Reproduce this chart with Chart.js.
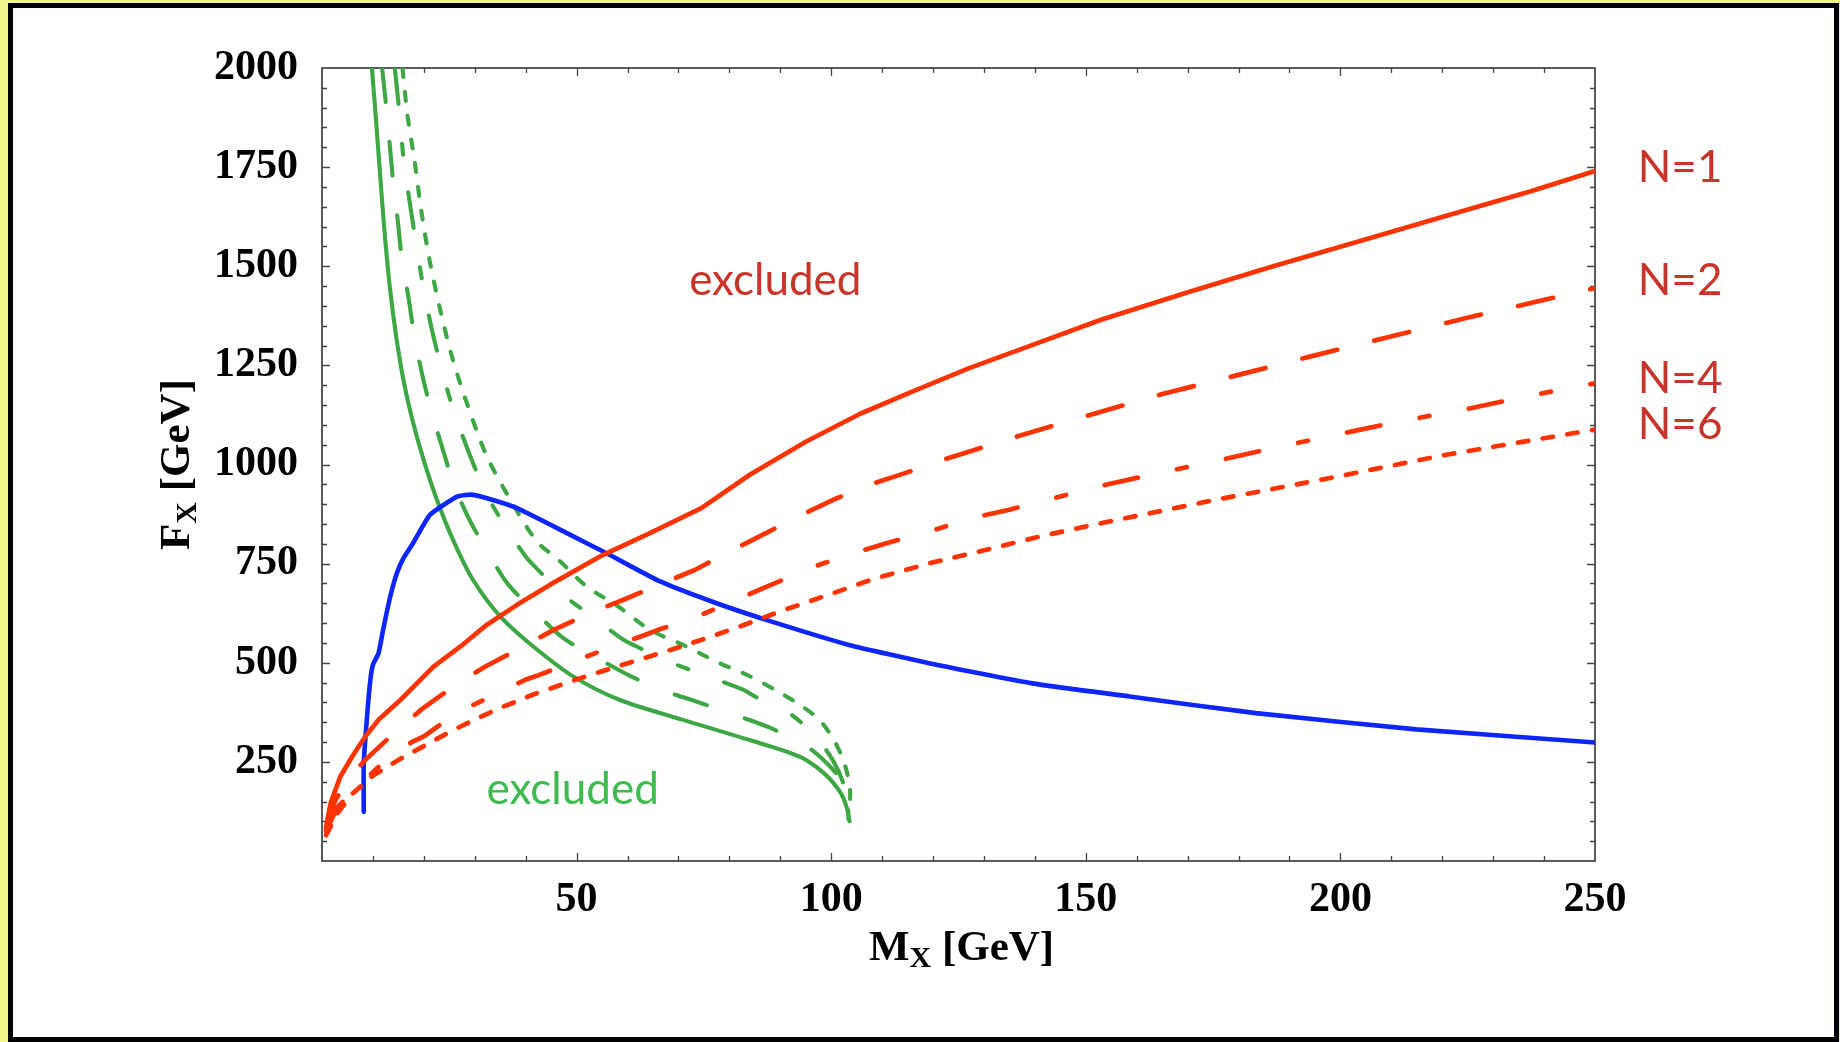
<!DOCTYPE html>
<html><head><meta charset="utf-8">
<script src="https://cdn.jsdelivr.net/npm/chart.js@4.4.1/dist/chart.umd.min.js"></script>
<style>html,body{margin:0;padding:0;background:#f1f58c;overflow:hidden}canvas{display:block}</style>
</head><body><canvas id="c" width="1840" height="1042"></canvas>
<script>
// ---- data ----
const xTickLabels = ['50', '100', '150', '200', '250'];
const yTickLabels = ['250', '500', '750', '1000', '1250', '1500', '1750', '2000'];
const seriesLabels = ['N=1', 'N=2', 'N=4', 'N=6'];
const regionLabels = ['excluded', 'excluded'];
const axisTitleX = ['M', 'X', ' [GeV]'];
const axisTitleY = ['F', 'X', ' [GeV]'];

const redN1 = [[0.8,85],[1.7,146],[3.6,213],[5.9,263],[8.5,314],[11.1,356],[15.4,406],[21.9,490],[27.2,541],[32.4,596],[38.3,646],[44.8,697],[54.6,768],[64.4,827],[74.5,890],[84,974],[95.1,1058],[105.7,1128],[115.9,1184],[127.1,1243],[137.3,1291],[153,1365],[169.9,1434],[186.8,1500],[203.7,1563],[220.5,1626],[237.4,1689],[250,1740]];
const redN2 = [[0.8,80],[2.5,150],[5,205],[8.5,255],[14.1,322],[19.6,383],[25.8,440],[32,490],[39.6,541],[45.5,583],[52.6,625],[59.2,659],[67,701],[73.2,734],[80.1,781],[86.6,823],[93.5,869],[100.4,911],[107.5,949],[114.2,977],[121.5,1010],[136.1,1069],[150.8,1125],[165.4,1179],[180,1226],[194.6,1274],[209.3,1321],[223.9,1367],[238.6,1411],[250,1445]];
const redN4 = [[0.8,75],[3,135],[6.6,183],[11.8,246],[17.5,299],[20.1,315],[26.3,373],[33.4,416],[39.9,457],[42.2,467],[49.4,503],[56.6,539],[63.4,570],[66,583],[72.9,612],[80.1,652],[87,690],[96.1,740],[103.3,772],[110.5,800],[120.2,835],[127.7,865],[135,886],[144.6,918],[151.9,943],[162,972],[176.7,1012],[186.2,1040],[201.4,1081],[211,1107],[225.6,1142],[235.8,1170],[250,1205]];
const redN6 = [[0.8,65],[3,120],[6,170],[10,215],[15,255],[20,290],[25,325],[30,357],[35,386],[41.5,420],[50.7,461],[61.1,503],[71.6,545],[80.7,585],[90.5,632],[100.3,675],[108,710],[119,750],[130.5,785],[141.5,820],[153,852],[175.5,911],[198,966],[220.5,1024],[250,1088]];
const blueCurve = [[8.2,124],[8.2,246],[8.9,373],[9.5,457],[10,495],[11.1,524],[12,583],[13.4,667],[14.7,726],[16,764],[17.9,802],[21.2,873],[26.5,919],[29.1,924],[32.4,915],[38.3,890],[48.1,827],[55.9,776],[66.4,705],[77.5,650],[88,605],[103.5,545],[119.2,499],[139.5,448],[158.6,415],[183.4,373],[214.9,332],[250,299]];
const greenN1 = [[9.8,2000],[10.6,1870],[11.3,1750],[12.2,1600],[13.3,1450],[14.6,1320],[16.2,1200],[18,1100],[20,1010],[22.6,910],[25.8,808],[29.6,710],[35,617],[41.5,541],[49.4,465],[58.5,406],[70.9,356],[84,305],[93.8,263],[98.6,221],[101.7,175],[103,137],[103.6,100]];
const greenN2 = [[11.8,2000],[12.6,1904],[13.3,1807],[14,1710],[14.9,1613],[15.7,1517],[17,1420],[18.1,1327],[19.6,1231],[21.4,1138],[23.6,1043],[25.9,950],[28.9,862],[32.6,778],[36.6,697],[42.1,625],[47.4,562],[54.2,511],[60.5,467],[67.7,427],[74.5,398],[82.1,364],[88.9,331],[95.8,284],[101,221],[103,179],[103.4,105]];
const greenN4 = [[14.3,2000],[15.3,1874],[16,1773],[17,1681],[18.5,1555],[19.8,1454],[21.5,1345],[23.6,1235],[25.8,1138],[28.4,1045],[32.1,930],[36,844],[40,768],[42,740],[47.2,673],[54,608],[59.2,558],[61.8,541],[68.1,503],[74.8,470],[82.7,432],[85,415],[91.5,375],[96.8,316],[100.5,250],[102.5,190],[103.3,110]];
const greenN6 = [[15.8,2000],[16.8,1880],[18.1,1773],[19.5,1640],[21.1,1517],[23.2,1391],[25.7,1264],[28.8,1142],[32.4,1020],[37,911],[42.2,806],[46.4,760],[52,692],[58.2,642],[64.4,583],[70.9,545],[78.1,499],[84,466],[89.6,427],[93.8,394],[97.7,356],[100.7,301],[102.7,242],[103.7,179],[103.5,120]];

// ---- styles ----
const RED = '#ff3300', BLUE = '#0d26ff', GREEN = '#3da843';
const TXT_RED = '#c9342a', TXT_GREEN = '#3dbb4f';
const SERIF = '"Liberation Serif", "Times New Roman", serif';
const SANS = 'Lato, "Open Sans", sans-serif';

function pts(a) { return a.map(p => ({x: p[0], y: p[1]})); }
function ds(data, color, width, dash, tension) {
  return {data: pts(data), borderColor: color, borderWidth: width, borderDash: dash,
    borderCapStyle: 'round', borderJoinStyle: 'round', showLine: true, pointRadius: 0,
    tension: tension || 0, fill: false};
}

const framePlugin = {
  id: 'frame',
  beforeDraw(chart) {
    const ctx = chart.ctx;
    ctx.save();
    ctx.fillStyle = '#f1f58c'; ctx.fillRect(0, 0, 1840, 1042);
    ctx.fillStyle = '#000'; ctx.fillRect(8, 3, 1831, 1039);
    ctx.fillStyle = '#fff'; ctx.fillRect(13, 8, 1821, 1029);
    ctx.restore();
  },
  beforeDatasetsDraw(chart) {
    const ctx = chart.ctx, a = chart.chartArea, xs = chart.scales.x, ys = chart.scales.y;
    ctx.save();
    ctx.strokeStyle = '#333'; ctx.lineWidth = 1.6;
    ctx.strokeRect(a.left, a.top, a.right - a.left, a.bottom - a.top);
    ctx.lineWidth = 1.3; ctx.strokeStyle = '#444';
    ctx.beginPath();
    for (let v = 10; v < 250; v += 10) {
      const px = Math.round(xs.getPixelForValue(v)) + 0.5, L = (v % 50 === 0) ? 8 : 5;
      ctx.moveTo(px, a.bottom); ctx.lineTo(px, a.bottom - L);
      ctx.moveTo(px, a.top); ctx.lineTo(px, a.top + L);
    }
    for (let v = 50; v < 2000; v += 50) {
      const py = Math.round(ys.getPixelForValue(v)) + 0.5, L = (v % 250 === 0) ? 8 : 5;
      ctx.moveTo(a.left, py); ctx.lineTo(a.left + L, py);
      ctx.moveTo(a.right, py); ctx.lineTo(a.right - L, py);
    }
    ctx.stroke();
    ctx.restore();
  },
  afterDraw(chart) {
    const ctx = chart.ctx, a = chart.chartArea, xs = chart.scales.x, ys = chart.scales.y;
    ctx.save();
    const big = 'bold 43px ' + SERIF, small = 'bold 30px ' + SERIF;
    function drawTitle(parts, cx, baseY) {
      ctx.font = big; const w0 = ctx.measureText(parts[0]).width;
      ctx.font = small; const w1 = ctx.measureText(parts[1]).width;
      ctx.font = big; const w2 = ctx.measureText(parts[2]).width;
      let x = cx - (w0 + w1 + w2) / 2;
      ctx.textBaseline = 'alphabetic'; ctx.textAlign = 'left'; ctx.fillStyle = '#000';
      ctx.font = big; ctx.fillText(parts[0], x, baseY); x += w0;
      ctx.font = small; ctx.fillText(parts[1], x, baseY + 7); x += w1;
      ctx.font = big; ctx.fillText(parts[2], x, baseY);
    }
    drawTitle(axisTitleX, (a.left + a.right) / 2 + 3, 960);
    ctx.save();
    ctx.translate(189, (a.top + a.bottom) / 2);
    ctx.rotate(-Math.PI / 2);
    drawTitle(axisTitleY, 0, 0);
    ctx.restore();
    ctx.font = '44px ' + SANS; ctx.textAlign = 'left'; ctx.textBaseline = 'alphabetic';
    ctx.fillStyle = TXT_RED;
    const lx = xs.getPixelForValue(258.4);
    [1711.8, 1428.4, 1180.3, 1064.2].forEach((v, i) => ctx.fillText(seriesLabels[i], lx, ys.getPixelForValue(v)));
    ctx.fillText(regionLabels[0], xs.getPixelForValue(72.1), ys.getPixelForValue(1428.4));
    ctx.fillStyle = TXT_GREEN;
    ctx.fillText(regionLabels[1], xs.getPixelForValue(32.3), ys.getPixelForValue(143.8));
    ctx.restore();
  }
};

new Chart(document.getElementById('c'), {
  type: 'scatter',
  data: {datasets: [
    ds(redN1, RED, 4.7, []),
    ds(redN2, RED, 4.7, [36, 38]),
    ds(redN4, RED, 4.7, [34, 40, 10, 40]),
    ds(redN6, RED, 4.7, [10.5, 14.5]),
    ds(blueCurve, BLUE, 4.6, [], 0.15),
    ds(greenN1, GREEN, 4.1, [], 0.3),
    ds(greenN2, GREEN, 4.1, [34, 40], 0.3),
    ds(greenN4, GREEN, 4.1, [36, 40, 11, 38], 0.3),
    ds(greenN6, GREEN, 4.1, [9, 15], 0.3)
  ]},
  options: {
    responsive: false, animation: false, devicePixelRatio: 1,
    layout: {padding: {left: 0, top: 68, right: 245, bottom: 0}},
    scales: {
      x: {type: 'linear', min: 0, max: 250, position: 'bottom',
        afterFit: s => { s.height = 181; },
        afterBuildTicks: s => { s.ticks = [0].concat(xTickLabels.map(Number)).map(v => ({value: v})); },
        ticks: {callback: v => (xTickLabels.includes(String(v)) ? String(v) : ''), color: '#000',
          font: {family: SERIF, size: 42, weight: 'bold'}, padding: 14, maxRotation: 0, autoSkip: false},
        grid: {display: false, drawTicks: false}, border: {display: false}},
      y: {type: 'linear', min: 0, max: 2000,
        afterFit: s => { s.width = 322; },
        afterBuildTicks: s => { s.ticks = [0].concat(yTickLabels.map(Number)).map(v => ({value: v})); },
        ticks: {callback: v => (yTickLabels.includes(String(v)) ? String(v) : ''), color: '#000',
          font: {family: SERIF, size: 42, weight: 'bold'}, padding: 24, autoSkip: false},
        grid: {display: false, drawTicks: false}, border: {display: false}}
    },
    plugins: {legend: {display: false}, tooltip: {enabled: false}}
  },
  plugins: [framePlugin]
});
</script>
</body></html>
